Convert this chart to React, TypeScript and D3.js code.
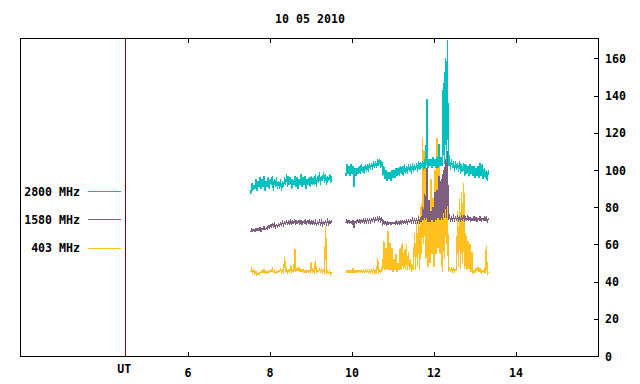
import React from "react";
import * as d3 from "d3";

const TITLE = "10 05 2010";
const SERIES_NAMES = ["2800 MHz", "1580 MHz", "403 MHz"];
const SERIES_COLORS = ["#00c0c0", "#7f5f80", "#ffc020"];
const X_TICKS = [6, 8, 10, 12, 14];
const Y_TICKS = [0, 20, 40, 60, 80, 100, 120, 140, 160];
const X_LABEL = "UT";
const UT_HOUR = 4.47;
const SEG1_START = 7.53;
const SEG2_START = 9.85;
const STEP = 0.05;

// [low, high] envelope per time bin (bin = STEP hours)
const f2800seg1: [number, number][] = [
  [87,93],[89,92],[90,95],[89,94],[91,96],[90,95],[91,97],[89,94],[91,96],[90,95],
  [92,97],[89,95],[91,96],[90,94],[90,95],[89,94],[91,96],[92,98],[91,97],[92,96],
  [90,95],[92,97],[91,96],[90,95],[92,98],[91,96],[92,97],[90,95],[92,96],[91,97],
  [92,96],[92,98],[91,97],[93,99],[92,97],[94,99],[93,98],[92,97],[94,98],[93,97],
];
const f2800seg2: [number, number][] = [
  [97,103],[98,102],[97,103],[98,102],[91,101],[97,101],[98,102],[98,103],[99,102],[98,103],
  [99,103],[99,104],[100,104],[100,105],[101,105],[101,106],[102,106],[101,105],[97,102],[95,100],
  [94,99],[95,99],[94,100],[96,100],[96,101],[97,101],[97,102],[98,102],[97,103],[98,102],
  [98,103],[99,103],[98,104],[99,103],[100,104],[99,105],[100,104],[101,105],[100,106],[101,138],
  [101,106],[102,106],[101,107],[102,106],[101,107],[101,114],[102,107],[102,147],[103,160],[104,170],
  [102,108],[100,106],[101,105],[99,105],[100,104],[99,105],[98,103],[99,104],[97,103],[98,102],
  [97,103],[98,102],[97,102],[96,101],[97,102],[96,104],[97,103],[95,101],[96,100],[94,100],
];
const f1580seg1: [number, number][] = [
  [66.5,68],[67,68],[67,68.5],[67.5,68.5],[67.5,69],[67,68.5],[68,69.5],[68,69],[68.5,70],[69,70.5],
  [69.5,71],[69.5,71],[69,70.5],[69.5,71],[70,71.5],[70.5,72],[70.5,72],[71,72.5],[71,72.5],[71,73],
  [71,72.5],[71.5,73],[71,72.5],[71.5,73],[71,73],[71,72.5],[71.5,73],[71,72.5],[71.5,73],[71,72.5],
  [71,72.5],[71,72.5],[70.5,72],[71,72.5],[71,72.5],[70.5,72],[71,72.5],[71,73],[71,72.5],[71.5,73],
];
const f1580seg2: [number, number][] = [
  [71.5,73],[71.5,73],[71.5,72.5],[71,73],[69,72.5],[71.5,73],[72,73],[71.5,73],[72,73.5],[72,73.5],
  [72,73.5],[72,73.5],[72,73.5],[72.5,74],[72.5,74],[73,74.5],[73,74.5],[72.5,74],[71,72.5],[71,72],
  [70.5,72],[71,72],[70.5,72],[71,72],[71,72.5],[71,72],[71,72.5],[71,72.5],[71.5,72.5],[71.5,73],
  [71.5,73],[72,73],[72,73.5],[72,73.5],[72,73.5],[72,74],[72,74],[72,80],[73,87],[73,101],
  [72,84],[72,78],[73,80],[72,88],[73,89],[74,97],[73,95],[73,100],[74,106],[74,110],
  [73,75],[73,74.5],[73,75],[73,74.5],[73.5,75],[73,74.5],[73,75],[73.5,76],[73,74.5],[73,75],
  [73,74.5],[72.5,74],[73,75],[73,74.5],[72.5,74],[73,75],[72.5,74],[73,74.5],[72.5,75],[72.5,74],
];
const f403seg1: [number, number][] = [
  [45,47],[45,46],[44,45.5],[43.5,44.5],[44,45],[45,46],[45,46.5],[44.5,45.5],[44.5,45.5],[45,46],
  [45.5,47],[45,46],[44.5,45.5],[45,46],[45.5,46.5],[45,46],[45,53],[45,46.5],[45,46],[45,49],
  [45,46],[45.5,57.5],[46,47],[46,47.5],[45.5,46.5],[45.5,46.5],[45,46],[45,46],[45,46],[45,50.5],
  [45,46],[45,51.5],[45,46],[45.5,46.5],[45.5,46.5],[45,46],[45,70],[44.5,45.5],[44.5,45.5],[44,45],
];
const f403seg2: [number, number][] = [
  [45,46],[45,46],[45,46],[45,47],[45,46],[45,46],[45,46],[45,46],[45,46],[45,46],
  [45,46],[45,46],[45,46],[45,47],[44.5,45.5],[44.5,52.5],[45,46],[45,48],[46,62],[46,58],
  [47,67],[46,61],[46,58],[45,52],[46,55],[45,50],[46,58],[46,61],[47,57],[46,60],
  [46,56],[46,52],[45,48],[47,66],[46,72],[48,76],[46,80],[55,117],[60,110],[52,90],
  [48,82],[50,95],[55,85],[48,100],[55,117],[58,112],[55,95],[45,90],[52,85],[60,85],
  [46,47],[46,47],[45.5,47],[45.5,46.5],[46,78],[48,85],[47,88],[50,93],[47,66],[46,62],
  [47,60],[45,56],[45,46],[45,47],[46,48],[45,47],[44.5,46],[45,46.5],[44.5,59],[44,45],
];

const W = 640, H = 384;
const L = 20, R = 598, T = 38, B = 356;
const FONT = "'DejaVu Sans Mono', monospace";

function zig(start: number, bins: [number, number][]): [number, number][] {
  const pts: [number, number][] = [];
  bins.forEach(([lo, hi], i) => {
    const t = start + i * STEP;
    pts.push([t, lo]);
    pts.push([t + STEP / 2, hi]);
  });
  return pts;
}

export default function App() {
  const x = d3.scaleLinear().domain([1.9, 16.0]).range([L, R]);
  const y = d3.scaleLinear().domain([0, 171]).range([B, T]);
  const line = d3.line<[number, number]>().x(d => x(d[0])).y(d => y(d[1]));

  const series = [
    { name: SERIES_NAMES[0], color: SERIES_COLORS[0], segs: [f2800seg1, f2800seg2] },
    { name: SERIES_NAMES[1], color: SERIES_COLORS[1], segs: [f1580seg1, f1580seg2] },
    { name: SERIES_NAMES[2], color: SERIES_COLORS[2], segs: [f403seg1, f403seg2] },
  ];
  const drawOrder = [2, 1, 0];
  const legendY = [191.5, 219.5, 248];

  return (
    <svg width={W} height={H} style={{ position: "absolute", left: 0, top: 0, background: "#fff" }}
      fontFamily={FONT} fontWeight="bold" fontSize={11.6}>
      <rect x={0} y={0} width={W} height={H} fill="#fff" />
      <defs>
        <clipPath id="plotclip">
          <rect x={L} y={T} width={R - L} height={B - T} />
        </clipPath>
      </defs>
      <text x={310} y={23} textAnchor="middle">{TITLE}</text>

      {/* UT line */}
      <line x1={Math.round(x(UT_HOUR)) + 0.5} x2={Math.round(x(UT_HOUR)) + 0.5} y1={T} y2={B}
        stroke="#8b0000" strokeWidth={1} shapeRendering="crispEdges" />

      {/* data */}
      <g clipPath="url(#plotclip)">
        {drawOrder.map(si => {
          const s = series[si];
          return s.segs.map((bins, k) => (
            <path key={`${si}-${k}`} d={line(zig(k === 0 ? SEG1_START : SEG2_START, bins)) || ""}
              fill="none" stroke={s.color} strokeWidth={1.3} strokeLinejoin="miter"
              shapeRendering="crispEdges" />
          ));
        })}
      </g>

      {/* frame */}
      <rect x={L + 0.5} y={T + 0.5} width={R - L} height={B - T} fill="none" stroke="#000"
        strokeWidth={1} shapeRendering="crispEdges" />

      {/* x ticks */}
      {X_TICKS.map(t => {
        const px = Math.round(x(t)) + 0.5;
        return (
          <g key={`xt${t}`}>
            <line x1={px} x2={px} y1={B} y2={B - 4} stroke="#000" shapeRendering="crispEdges" />
            <line x1={px} x2={px} y1={T} y2={T + 5} stroke="#000" shapeRendering="crispEdges" />
            <text x={x(t)} y={377} textAnchor="middle">{t}</text>
          </g>
        );
      })}
      <text x={x(UT_HOUR) - 1} y={373} textAnchor="middle">{X_LABEL}</text>

      {/* y ticks on right */}
      {Y_TICKS.map(v => {
        const py = Math.round(y(v)) + 0.5;
        return (
          <g key={`yt${v}`}>
            <line x1={R - 4} x2={R} y1={py} y2={py} stroke="#000" shapeRendering="crispEdges" />
            <text x={605} y={y(v) + 4.5} textAnchor="start">{v}</text>
          </g>
        );
      })}

      {/* legend */}
      {series.map((s, i) => (
        <g key={`lg${i}`}>
          <text x={80} y={legendY[i] + 4} textAnchor="end">{s.name}</text>
          <line x1={88} x2={121} y1={legendY[i]} y2={legendY[i]} stroke={s.color} strokeWidth={1}
            shapeRendering="crispEdges" />
        </g>
      ))}
    </svg>
  );
}
